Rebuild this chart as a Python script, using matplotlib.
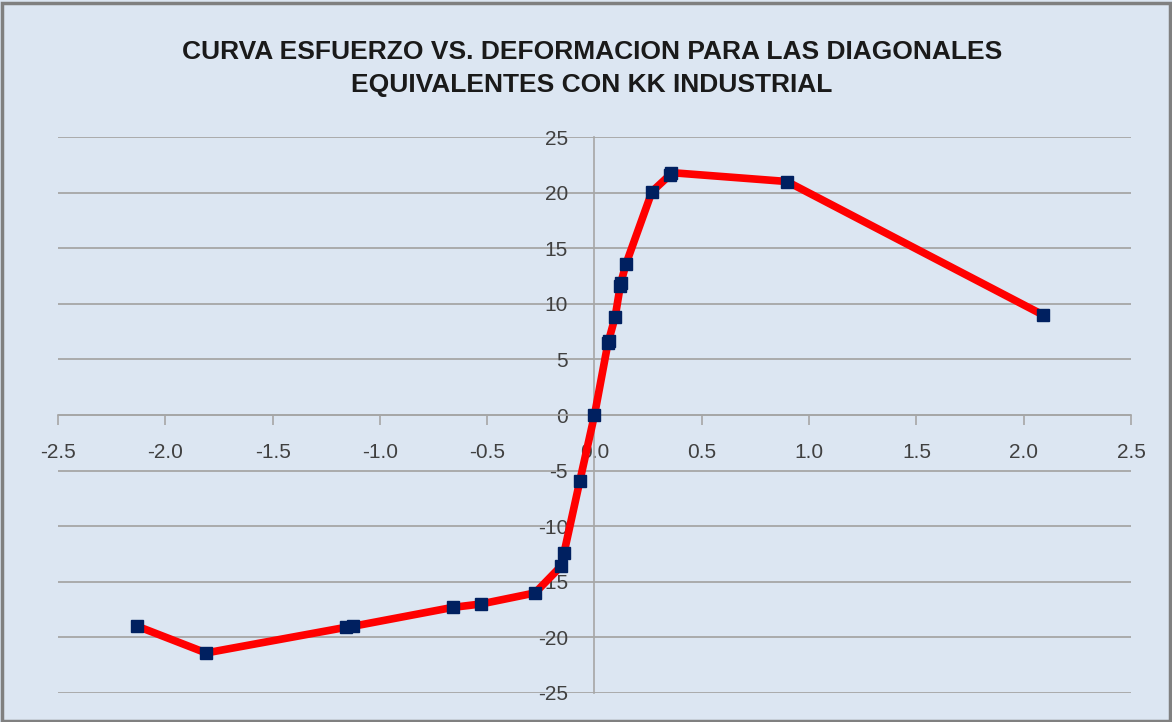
import matplotlib.pyplot as plt
import matplotlib.ticker as ticker
from matplotlib.patches import Rectangle

# Deformacion (x) y esfuerzo (y)
deformacion = [-2.13, -1.81, -1.16, -1.125, -0.66, -0.53, -0.277, -0.156, -0.142,
               -0.068, 0.0, 0.063, 0.066, 0.096, 0.12, 0.123, 0.147, 0.268,
               0.352, 0.357, 0.897, 2.09]
esfuerzo = [-19.0, -21.4, -19.1, -19.0, -17.3, -17.0, -16.0, -13.6, -12.4,
            -5.9, 0.0, 6.5, 6.7, 8.8, 11.6, 11.9, 13.6, 20.1,
            21.6, 21.8, 21.0, 9.0]

titulo = "CURVA ESFUERZO VS. DEFORMACION PARA LAS DIAGONALES\nEQUIVALENTES CON KK INDUSTRIAL"

BG = "#dce6f2"
GRID = "#a6a6a6"
TXT = "#404040"
FONT = ["Liberation Sans", "DejaVu Sans"]

fig = plt.figure(figsize=(11.72, 7.22), dpi=100, facecolor=BG)
fig.patches.append(Rectangle((0.002, 0.002), 0.996, 0.994, transform=fig.transFigure,
                             fill=False, edgecolor="#808080", linewidth=2.5))

ax = fig.add_axes([0.0495, 0.0402, 0.9155, 0.77])
ax.set_facecolor(BG)

ax.plot(deformacion, esfuerzo, "-", color="#ff0000", linewidth=5.5, zorder=3)
ax.plot(deformacion, esfuerzo, "s", color="#002060", markersize=8.5, zorder=4,
        linestyle="none")

ax.set_xlim(-2.5, 2.5)
ax.set_ylim(-25, 25)
ax.xaxis.set_major_locator(ticker.MultipleLocator(0.5))
ax.yaxis.set_major_locator(ticker.MultipleLocator(5))
ax.xaxis.set_major_formatter(ticker.FormatStrFormatter("%.1f"))
ax.yaxis.set_major_formatter(ticker.FormatStrFormatter("%d"))

ax.spines["left"].set_position(("data", 0))
ax.spines["bottom"].set_position(("data", 0))
ax.spines["top"].set_visible(False)
ax.spines["right"].set_visible(False)
for s in ("left", "bottom"):
    ax.spines[s].set_color(GRID)
    ax.spines[s].set_linewidth(1.2)

ax.grid(True, axis="y", color=GRID, linewidth=1.3)
ax.set_axisbelow(True)

ax.tick_params(axis="x", direction="out", length=7, width=1.2, color=GRID,
               labelsize=15, labelcolor=TXT, pad=13)
ax.tick_params(axis="y", length=0, labelsize=15, labelcolor=TXT, pad=19)
for lab in ax.get_xticklabels() + ax.get_yticklabels():
    lab.set_family(FONT)

fig.text(0.505, 0.905, titulo, ha="center", va="center", fontsize=19,
         fontweight="bold", color="#1a1a1a", linespacing=1.5,
         family=FONT)

plt.savefig("out.png", dpi=100, facecolor=BG)
